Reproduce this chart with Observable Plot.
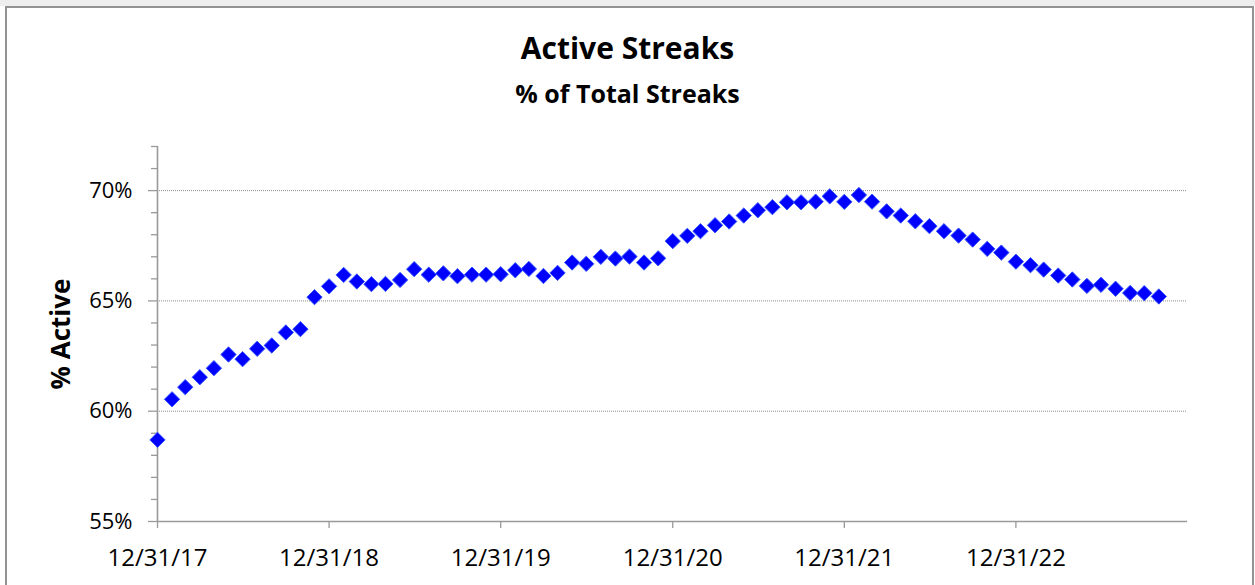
<!DOCTYPE html>
<html>
<head>
<meta charset="utf-8">
<script src="https://cdn.jsdelivr.net/npm/d3@7"></script>
<script src="https://cdn.jsdelivr.net/npm/@observablehq/plot@0.6"></script>
<style>
  html, body { margin: 0; padding: 0; background: #fff; }
  body { width: 1255px; height: 585px; position: relative; overflow: hidden; font-family: "Open Sans", sans-serif; }
  #strip { position: absolute; left: 0; top: 0; width: 1255px; height: 6px; background: #eeeeee; }
  #frame { position: absolute; left: 5px; top: 6px; width: 1249px; height: 620px; border: 2px solid #939393; border-bottom: none; box-sizing: border-box; }
  #wrap { position: absolute; left: 0; top: 0; width: 1255px; }
  #titles { position: relative; height: 120px; width: 1255px; }
  #title { position: absolute; left: 0; width: 1255px; top: 31px; text-align: center; font-weight: bold; font-size: 30px; line-height: 34px; color: #000; }
  #subtitle { position: absolute; left: 0; width: 1255px; top: 78px; text-align: center; font-weight: bold; font-size: 25px; line-height: 30px; color: #000; }
  #chart svg { display: block; }
</style>
</head>
<body>
<div id="strip"></div>
<div id="frame"></div>
<div id="wrap">
  <div id="titles">
    <div id="title">Active Streaks</div>
    <div id="subtitle">% of Total Streaks</div>
  </div>
  <div id="chart"></div>
</div>
<script>
// Month of each observation (value taken at month end)
const months = [
  "2017-12",
  "2018-01","2018-02","2018-03","2018-04","2018-05","2018-06","2018-07","2018-08","2018-09","2018-10","2018-11","2018-12",
  "2019-01","2019-02","2019-03","2019-04","2019-05","2019-06","2019-07","2019-08","2019-09","2019-10","2019-11","2019-12",
  "2020-01","2020-02","2020-03","2020-04","2020-05","2020-06","2020-07","2020-08","2020-09","2020-10","2020-11","2020-12",
  "2021-01","2021-02","2021-03","2021-04","2021-05","2021-06","2021-07","2021-08","2021-09","2021-10","2021-11","2021-12",
  "2022-01","2022-02","2022-03","2022-04","2022-05","2022-06","2022-07","2022-08","2022-09","2022-10","2022-11","2022-12",
  "2023-01","2023-02","2023-03","2023-04","2023-05","2023-06","2023-07","2023-08","2023-09","2023-10"
];
// % Active
const activePct = [
  58.70,
  60.54, 61.09, 61.54, 61.95, 62.57, 62.36, 62.83, 62.98, 63.57, 63.72, 65.17, 65.66,
  66.18, 65.88, 65.76, 65.77, 65.95, 66.44, 66.19, 66.25, 66.12, 66.19, 66.19, 66.21,
  66.39, 66.45, 66.13, 66.27, 66.74, 66.68, 67.00, 66.92, 67.01, 66.74, 66.93, 67.71,
  67.95, 68.16, 68.43, 68.60, 68.87, 69.11, 69.25, 69.47, 69.47, 69.50, 69.74, 69.49,
  69.80, 69.50, 69.06, 68.87, 68.61, 68.39, 68.16, 67.96, 67.78, 67.36, 67.19, 66.78,
  66.62, 66.42, 66.15, 65.97, 65.68, 65.73, 65.55, 65.36, 65.35, 65.20
];
const xTickDates = ["2017-12-31","2018-12-31","2019-12-31","2020-12-31","2021-12-31","2022-12-31"];
const xDomainDates = ["2017-12-31","2023-12-31"];
const yMajorTicks = [55, 60, 65, 70];
const yMinorTicks = [56,57,58,59,61,62,63,64,66,67,68,69,71,72];
const yGridLines = [60, 65, 70];
const yDomain = [55, 72];
const yLabel = "% Active";

const parseMonth = d3.utcParse("%Y-%m");
const parseDay = d3.utcParse("%Y-%m-%d");
const monthEnd = m => d3.utcDay.offset(d3.utcMonth.offset(parseMonth(m), 1), -1);
const data = months.map((m, i) => ({date: monthEnd(m), value: activePct[i]}));
const xDomain = xDomainDates.map(parseDay);
const xTicks = xTickDates.map(parseDay);
const fmt = d3.utcFormat("%m/%d/%y");

const axisColor = "#9a9a9a";

const chart = Plot.plot({
  width: 1255,
  height: 465,
  marginLeft: 157,
  marginRight: 68,
  marginTop: 26,
  marginBottom: 64,
  style: {fontFamily: "Open Sans", fontSize: "21px", color: "#000", background: "transparent", overflow: "visible"},
  x: {type: "utc", domain: xDomain},
  y: {domain: yDomain},
  marks: [
    Plot.ruleY(yGridLines, {stroke: "#8a8a8a", strokeWidth: 1, strokeDasharray: "1,1"}),
    Plot.axisY({ticks: yMinorTicks, tickSize: 6, tickFormat: () => "", label: null, stroke: axisColor, strokeWidth: 1.3}),
    Plot.axisY({ticks: yMajorTicks, tickSize: 9, tickPadding: 16, tickFormat: d => d + "%", label: null, stroke: axisColor, strokeWidth: 1.3, fill: "#000", fontSize: 22}),
    Plot.axisX({ticks: xTicks, tickSize: 7, tickPadding: 20, tickFormat: fmt, label: null, stroke: axisColor, strokeWidth: 1.3, fill: "#000", fontSize: 24}),
    Plot.ruleX([xDomain[0]], {stroke: axisColor, strokeWidth: 1.6}),
    Plot.ruleY([yDomain[0]], {stroke: axisColor, strokeWidth: 1.6}),
    Plot.text([yLabel], {frameAnchor: "left", textAnchor: "middle", lineAnchor: "middle", rotate: -90, dx: -96, fontSize: 26, fontWeight: "bold", fill: "#000"}),
    Plot.dot(data, {x: "date", y: "value", symbol: "diamond2", r: 6.9, fill: "#0000ff", stroke: "#3656ff", strokeWidth: 1})
  ]
});
document.getElementById("chart").appendChild(chart);
</script>
</body>
</html>
